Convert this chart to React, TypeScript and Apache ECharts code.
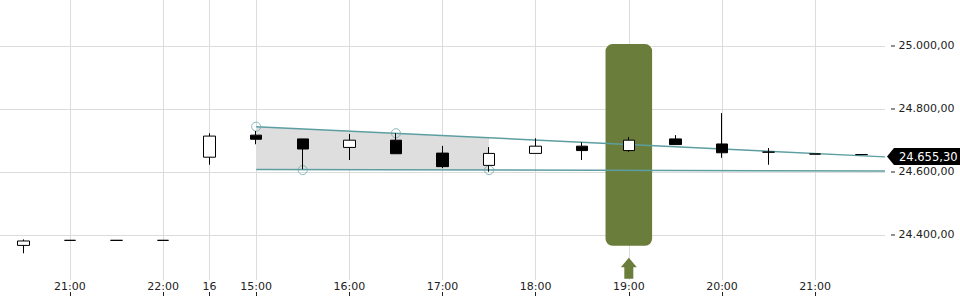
import React, { useEffect, useRef } from 'react';
import * as echarts from 'echarts';

// Categories (half-hour candles), with the label shown under each (empty = no label)
const categories = [
  '15 20:30', '15 21:00', '15 21:30', '15 22:00', '16 start', '16 15:00', '16 15:30',
  '16 16:00', '16 16:30', '16 17:00', '16 17:30', '16 18:00', '16 18:30', '16 19:00',
  '16 19:30', '16 20:00', '16 20:30', '16 21:00', '16 21:30',
];
const axisLabels = [
  '', '21:00', '', '22:00', '16', '15:00', '', '16:00', '', '17:00', '', '18:00', '',
  '19:00', '', '20:00', '', '21:00', '',
];

// OHLC values
const opens = [24367, 24383, 24383, 24383, 24647, 24717, 24705, 24678, 24701, 24660, 24621, 24659, 24682, 24668, 24705, 24689, 24663, 24657, 24655.3];
const closes = [24381, 24383, 24383, 24383, 24714, 24704, 24673, 24701, 24658, 24617, 24659, 24682, 24668, 24701, 24687, 24661, 24663, 24657, 24655.3];
const lows = [24342, 24383, 24383, 24383, 24623, 24688, 24609, 24638, 24658, 24612, 24601, 24659, 24638, 24664, 24687, 24645, 24623, 24657, 24655.3];
const highs = [24386, 24383, 24383, 24383, 24723, 24730, 24705, 24721, 24723, 24683, 24679, 24707, 24694, 24711, 24717, 24787, 24676, 24657, 24655.3];

// Value axis range and step
const yMin = 24200;
const yMax = 25146;
const yStep = 200;

// Trend channel (x in category index units)
const upperTrend = [[5, 24744], [18.5, 24648]];
const lowerTrend = [[5, 24608], [18.5, 24603]];
const pivots = [[5, 24744], [6, 24606], [8, 24723], [10, 24606]];
const shadeX = [5, 10];
const shadeTop = [24744, 24707];
const shadeBottom = [24608, 24606];

// Highlighted candle: [category index, top value, bottom value]
const highlight = [13, 25006, 24366];
const lastPrice = 24655.3;

const GREEN = '#6b7d3a';
const TEAL = '#5c9ea1';
const GRID = '#dcdcdc';
const FONT = 'DejaVu Sans';

const fmt = (v: number) => {
  const [i, d] = v.toFixed(2).split('.');
  return i.replace(/\B(?=(\d{3})+(?!\d))/g, '.') + ',' + d;
};
const showIdx = (index: number) => axisLabels[index] !== '';

export default function App() {
  const ref = useRef<HTMLDivElement>(null);
  useEffect(() => {
    document.body.style.margin = '0';
    if (!ref.current) return;
    const chart = echarts.init(ref.current, null, { renderer: 'svg' });
    const candleData = opens.map((o, i) => [o, closes[i], lows[i], highs[i]]);
    chart.setOption({
      animation: false,
      textStyle: { fontFamily: FONT },
      grid: [
        { left: 0, right: 75, top: 0, bottom: 2, containLabel: false },
        { left: 0, right: 75, top: 0, bottom: 20, containLabel: false },
      ],
      xAxis: [
        { gridIndex: 0, type: 'category', data: categories, boundaryGap: true, show: false },
        { gridIndex: 0, type: 'value', min: -0.5, max: 18.5, show: false },
        {
          gridIndex: 1,
          type: 'category',
          data: categories,
          boundaryGap: true,
          position: 'bottom',
          axisLine: { show: false },
          axisTick: { show: false },
          axisLabel: {
            interval: (index: number) => showIdx(index),
            formatter: (value: string) => axisLabels[categories.indexOf(value)],
            color: '#222',
            fontSize: 11,
            fontFamily: FONT,
            margin: 1,
          },
          splitLine: {
            show: true,
            interval: (index: number) => showIdx(index),
            alignWithLabel: true,
            lineStyle: { color: GRID, width: 1 },
          },
        },
        {
          gridIndex: 1,
          type: 'category',
          data: categories,
          boundaryGap: true,
          position: 'bottom',
          offset: 12,
          axisLine: { show: false },
          axisLabel: { show: false },
          axisTick: {
            show: true,
            alignWithLabel: true,
            interval: (index: number) => showIdx(index),
            length: 4,
            lineStyle: { color: '#222', width: 1 },
          },
          splitLine: { show: false },
        },
      ],
      yAxis: [
        {
          gridIndex: 0,
          type: 'value',
          position: 'right',
          min: yMin,
          max: yMax,
          interval: yStep,
          axisLine: { show: false },
          axisTick: { show: false },
          axisLabel: {
            formatter: (v: number) => '{d|}{v| ' + fmt(v) + '}',
            rich: {
              d: { width: 4, height: 1, backgroundColor: '#222' },
              v: { color: '#222', fontSize: 11, fontFamily: FONT },
            },
            color: '#222',
            fontSize: 11,
            fontFamily: FONT,
            margin: 6,
            showMinLabel: false,
            showMaxLabel: false,
          },
          splitLine: { show: true, showMinLine: false, showMaxLine: false, lineStyle: { color: GRID, width: 1 } },
        },
        { gridIndex: 1, type: 'value', show: false },
      ],
      series: [
        {
          type: 'custom',
          xAxisIndex: 0,
          yAxisIndex: 0,
          z: 1,
          clip: false,
          silent: true,
          encode: { x: 0, y: [1, 2] },
          data: [highlight],
          renderItem: (params: any, api: any) => {
            const top = api.coord([api.value(0), api.value(1)]);
            const bot = api.coord([api.value(0), api.value(2)]);
            const w = api.size([1, 0])[0];
            const cx = top[0];
            const by = bot[1];
            return {
              type: 'group',
              children: [
                { type: 'rect', shape: { x: cx - w / 2, y: top[1], width: w, height: by - top[1], r: 7 }, style: { fill: GREEN } },
                {
                  type: 'polygon',
                  shape: {
                    points: [
                      [cx, by + 12], [cx + 8, by + 21.5], [cx + 4.5, by + 21.5], [cx + 4.5, by + 33],
                      [cx - 4.5, by + 33], [cx - 4.5, by + 21.5], [cx - 8, by + 21.5],
                    ],
                  },
                  style: { fill: GREEN },
                },
              ],
            };
          },
        },
        {
          type: 'custom',
          xAxisIndex: 1,
          yAxisIndex: 0,
          z: 1,
          silent: true,
          encode: { x: [0, 1], y: [2, 3, 4, 5] },
          data: [[shadeX[0], shadeX[1], shadeTop[0], shadeTop[1], shadeBottom[0], shadeBottom[1]]],
          renderItem: (params: any, api: any) => {
            const a = api.coord([api.value(0), api.value(2)]);
            const b = api.coord([api.value(1), api.value(3)]);
            const c = api.coord([api.value(1), api.value(5)]);
            const d = api.coord([api.value(0), api.value(4)]);
            return { type: 'polygon', shape: { points: [a, b, c, d] }, style: { fill: '#dedede' } };
          },
        },
        {
          type: 'line',
          xAxisIndex: 1,
          yAxisIndex: 0,
          z: 2,
          silent: true,
          symbol: 'none',
          data: upperTrend,
          lineStyle: { color: TEAL, width: 1.5 },
        },
        {
          type: 'line',
          xAxisIndex: 1,
          yAxisIndex: 0,
          z: 2,
          silent: true,
          symbol: 'none',
          data: lowerTrend,
          lineStyle: { color: TEAL, width: 1.5 },
        },
        {
          type: 'scatter',
          xAxisIndex: 1,
          yAxisIndex: 0,
          z: 2,
          silent: true,
          symbol: 'circle',
          symbolSize: 9,
          data: pivots,
          itemStyle: { color: 'rgba(0,0,0,0)', borderColor: '#6aa8aa', borderWidth: 1 },
        },
        {
          type: 'candlestick',
          xAxisIndex: 0,
          yAxisIndex: 0,
          z: 3,
          silent: true,
          barWidth: 12,
          data: candleData,
          itemStyle: {
            color: '#ffffff',
            color0: '#000000',
            borderColor: '#000000',
            borderColor0: '#000000',
            borderColorDoji: '#000000',
            borderWidth: 1,
          },
        },
        {
          type: 'custom',
          xAxisIndex: 0,
          yAxisIndex: 0,
          z: 5,
          clip: false,
          silent: true,
          data: [[opens.length - 1, lastPrice]],
          renderItem: (params: any, api: any) => {
            const p = api.coord([api.value(0), api.value(1)]);
            const cs = params.coordSys;
            const x0 = cs.x + cs.width + 2;
            const cy = p[1] + 2;
            const h = 8.5;
            const right = api.getWidth();
            return {
              type: 'group',
              children: [
                {
                  type: 'polygon',
                  shape: { points: [[x0, cy], [x0 + 7, cy - h], [right, cy - h], [right, cy + h], [x0 + 7, cy + h]] },
                  style: { fill: '#000' },
                },
                {
                  type: 'text',
                  style: {
                    x: x0 + 12,
                    y: cy,
                    text: fmt(api.value(1)),
                    fill: '#fff',
                    fontSize: 11.5,
                    fontFamily: FONT,
                    verticalAlign: 'middle',
                    align: 'left',
                  },
                },
              ],
            };
          },
        },
      ],
    });
    return () => chart.dispose();
  }, []);
  return <div ref={ref} style={{ width: 960, height: 300 }} />;
}
